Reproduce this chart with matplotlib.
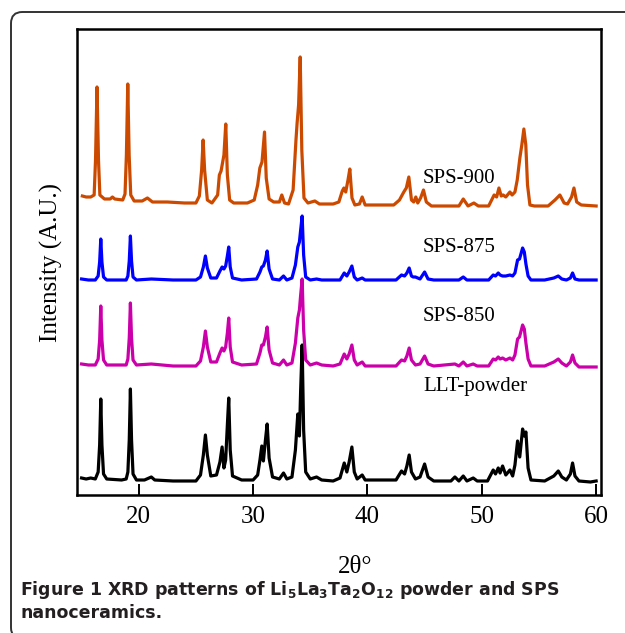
"""XRD patterns of Li5La3Ta2O12 powder and SPS nanoceramics."""

import matplotlib

matplotlib.use("Agg")
import matplotlib.pyplot as plt
from matplotlib.patches import FancyBboxPatch

# (2theta, intensity above own baseline), arbitrary units
llt_powder = [
    (15.0, 2), (15.4, 1), (15.8, 2), (16.2, 1), (16.45, 8), (16.58, 35), (16.68, 81),
    (16.78, 35), (16.92, 6), (17.2, 1), (18.5, 0), (18.9, 1), (19.05, 8), (19.17, 40),
    (19.27, 91), (19.37, 40), (19.5, 6), (19.8, 0), (20.5, 0), (21.1, 3), (21.4, 0),
    (23.0, -1), (25.0, -1), (25.4, 5), (25.65, 25), (25.83, 45), (26.0, 25), (26.3, 4),
    (26.8, 5), (27.1, 18), (27.29, 33), (27.45, 12), (27.6, 20), (27.75, 55), (27.87, 82),
    (28.0, 30), (28.2, 4), (29.0, 0), (30.0, 0), (30.4, 5), (30.6, 20), (30.76, 34),
    (30.9, 19), (31.08, 40), (31.23, 56), (31.4, 22), (31.7, 3), (32.3, 1), (32.66, 7),
    (32.95, 1), (33.4, 3), (33.7, 30), (33.91, 66), (34.05, 44), (34.16, 90), (34.29, 135),
    (34.42, 50), (34.6, 8), (35.0, 1), (35.55, 3), (36.0, 0), (37.0, -1), (37.6, 2),
    (37.97, 17), (38.2, 8), (38.4, 18), (38.64, 33), (38.85, 8), (39.1, 1), (39.54, 5),
    (39.8, 0), (42.5, 0), (42.98, 9), (43.25, 6), (43.45, 14), (43.65, 25), (43.85, 8),
    (44.2, 1), (44.6, 3), (45.0, 16), (45.3, 3), (45.8, -1), (47.3, -1), (47.65, 3),
    (48.0, -1), (48.38, 4), (48.7, -1), (49.25, 2), (49.6, -1), (50.5, -1), (51.0, 10),
    (51.2, 6), (51.44, 12), (51.6, 7), (51.82, 14), (52.1, 5), (52.46, 10), (52.7, 4),
    (52.9, 15), (53.13, 39), (53.32, 23), (53.57, 51), (53.72, 44), (53.86, 48),
    (54.05, 12), (54.3, 0), (55.5, -1), (56.3, 4), (56.69, 9), (57.0, 3), (57.4, 0),
    (57.75, 6), (57.94, 17), (58.15, 4), (58.5, -1), (59.5, -2), (60.0, -1),
]

sps_850 = [
    (15.0, 1), (15.6, 0), (16.2, 0), (16.45, 6), (16.58, 25), (16.68, 59), (16.78, 25),
    (16.92, 5), (17.2, 0), (18.9, 0), (19.05, 6), (19.17, 27), (19.27, 62), (19.37, 27),
    (19.5, 5), (19.8, 0), (21.1, 1), (23.0, -1), (25.0, -1), (25.4, 4), (25.65, 18),
    (25.83, 34), (26.0, 18), (26.3, 3), (26.8, 3), (27.1, 12), (27.29, 17), (27.45, 14),
    (27.6, 18), (27.75, 32), (27.87, 47), (28.0, 18), (28.2, 3), (29.0, 0), (30.3, 1),
    (30.6, 12), (30.76, 20), (30.9, 20), (31.08, 28), (31.23, 38), (31.4, 15), (31.7, 2),
    (32.3, 0), (32.66, 5), (32.95, 0), (33.4, 2), (33.7, 22), (33.91, 47), (34.05, 55),
    (34.16, 70), (34.29, 86), (34.42, 35), (34.6, 5), (35.0, 0), (35.55, 2), (36.0, 0),
    (37.0, -1), (37.6, 1), (37.97, 11), (38.2, 6), (38.4, 11), (38.64, 20), (38.85, 5),
    (39.1, 0), (39.54, 3), (39.8, -1), (42.5, -1), (42.98, 5), (43.25, 4), (43.45, 9),
    (43.65, 17), (43.85, 5), (44.2, 0), (44.6, 1), (45.0, 9), (45.3, 1), (45.8, -1),
    (47.65, 1), (48.0, -1), (48.38, 3), (48.7, -1), (49.25, 1), (49.6, -1), (50.6, -1),
    (51.0, 6), (51.2, 5), (51.44, 8), (51.6, 6), (51.82, 7), (52.1, 5), (52.46, 7),
    (52.7, 5), (52.9, 10), (53.13, 26), (53.3, 28), (53.57, 40), (53.72, 36), (53.86, 22),
    (54.05, 6), (54.3, -1), (55.5, -1), (56.3, 3), (56.69, 6), (57.0, 2), (57.4, -1),
    (57.75, 3), (57.94, 10), (58.15, 2), (58.5, -2), (60.0, -2),
]

sps_875 = [
    (15.0, 1), (15.6, 0), (16.2, 0), (16.45, 4), (16.58, 18), (16.68, 41), (16.78, 18),
    (16.92, 3), (17.2, 0), (18.9, 0), (19.05, 4), (19.17, 19), (19.27, 44), (19.37, 19),
    (19.5, 3), (19.8, 0), (21.1, 1), (23.0, 0), (25.0, 0), (25.4, 3), (25.65, 13),
    (25.83, 24), (26.0, 12), (26.3, 2), (26.8, 2), (27.1, 9), (27.29, 13), (27.45, 11),
    (27.6, 14), (27.75, 24), (27.87, 33), (28.0, 13), (28.2, 2), (29.0, 0), (30.3, 1),
    (30.6, 8), (30.76, 13), (30.9, 14), (31.08, 20), (31.23, 29), (31.4, 11), (31.7, 1),
    (32.3, 0), (32.66, 4), (32.95, 0), (33.4, 2), (33.7, 15), (33.91, 33), (34.05, 38),
    (34.16, 50), (34.29, 64), (34.42, 25), (34.6, 3), (35.0, 0), (35.55, 1), (36.0, 0),
    (37.6, 0), (37.97, 7), (38.2, 4), (38.4, 8), (38.64, 14), (38.85, 3), (39.1, 0),
    (39.54, 2), (39.8, 0), (42.5, 0), (42.98, 5), (43.25, 4), (43.45, 7), (43.65, 12),
    (43.85, 4), (44.0, 3), (44.2, 3), (44.6, 1), (45.0, 8), (45.3, 1), (45.8, 0),
    (48.0, 0), (48.38, 3), (48.7, 0), (50.6, 0), (51.0, 5), (51.2, 4), (51.44, 7),
    (51.6, 5), (51.82, 4), (52.1, 4), (52.46, 5), (52.7, 4), (52.9, 7), (53.13, 20),
    (53.3, 21), (53.57, 32), (53.72, 28), (53.86, 16), (54.05, 4), (54.3, 0), (55.5, 0),
    (56.3, 2), (56.69, 4), (57.0, 1), (57.4, 0), (57.75, 2), (57.94, 7), (58.15, 1),
    (58.5, 0), (60.0, 0),
]

sps_900 = [
    (15.07, 4), (15.4, 3), (15.8, 3), (16.1, 5), (16.22, 40), (16.35, 113), (16.48, 40),
    (16.6, 5), (17.0, 1), (17.5, 1), (17.7, 3), (17.9, 1), (18.6, 0), (18.8, 6),
    (18.92, 45), (19.04, 116), (19.16, 45), (19.3, 5), (19.6, -1), (20.3, -1), (20.76, 2),
    (21.2, -2), (22.5, -2), (24.0, -3), (25.0, -3), (25.3, 4), (25.5, 30), (25.63, 60),
    (25.76, 30), (26.0, 0), (26.4, -3), (26.9, 5), (27.05, 25), (27.2, 29), (27.45, 45),
    (27.61, 76), (27.75, 25), (27.95, 0), (28.3, -3), (29.5, -3), (30.1, 0), (30.4, 15),
    (30.59, 32), (30.78, 38), (31.0, 68), (31.15, 22), (31.4, 1), (31.8, -2), (32.3, -2),
    (32.51, 5), (32.75, -3), (33.1, -4), (33.5, 10), (33.75, 60), (33.85, 77), (33.98, 95),
    (34.12, 143), (34.26, 50), (34.45, 2), (34.8, -3), (35.4, -1), (35.8, -4), (37.0, -4),
    (37.5, -2), (37.8, 9), (37.94, 12), (38.1, 8), (38.3, 20), (38.46, 31), (38.65, 2),
    (38.9, -5), (39.3, -4), (39.54, 3), (39.8, -5), (42.3, -5), (42.8, 0), (43.18, 8),
    (43.4, 12), (43.62, 23), (43.85, 0), (44.05, -2), (44.23, 3), (44.4, -3), (44.65, 2),
    (44.9, 10), (45.15, -2), (45.6, -6), (48.0, -6), (48.38, 1), (48.8, -6), (49.31, -3),
    (49.7, -6), (50.6, -6), (51.08, 5), (51.3, 3), (51.5, 12), (51.7, 4), (51.87, 5),
    (52.1, 3), (52.46, 8), (52.65, 5), (52.9, 8), (53.1, 20), (53.33, 42), (53.5, 55),
    (53.68, 71), (53.85, 55), (54.0, 15), (54.21, -5), (54.6, -6), (55.8, -6), (56.4, 0),
    (56.83, 5), (57.2, -3), (57.5, -4), (57.85, 3), (58.06, 12), (58.3, -2), (58.7, -5),
    (60.0, -6),
]

patterns = [llt_powder, sps_850, sps_875, sps_900]
names = ["LLT-powder", "SPS-850", "SPS-875", "SPS-900"]
offsets = [15, 130, 215, 295]
colors = ["#000000", "#cc00aa", "#0000ff", "#cc4a00"]
label_y = [104, 174, 243, 312]

plt.rcParams["mathtext.fontset"] = "dejavusans"
plt.rcParams["mathtext.default"] = "bf"

fig = plt.figure(figsize=(6.25, 6.33), dpi=100)
fig.patch.set_facecolor("white")

# rounded frame around the figure panel, running off the page at right/bottom
frame = FancyBboxPatch(
    (11 / 625, -6 / 633), 640 / 625, (633 - 12 + 6) / 633,
    boxstyle="round,pad=0,rounding_size=0.018",
    transform=fig.transFigure, facecolor="none", edgecolor="#333333",
    linewidth=1.4, clip_on=False,
)
fig.patches.append(frame)

ax = fig.add_axes([77 / 625, 1 - 495 / 633, (600.7 - 77) / 625, (495 - 29) / 633])

for data, off, col in zip(patterns, offsets, colors):
    tt, counts = zip(*data)
    ax.plot(tt, [c + off for c in counts], color=col, linewidth=2.3,
            solid_joinstyle="round")

serif = "Liberation Serif"
for name, y in zip(names, label_y):
    ax.text(44.85, y, name, fontsize=15, family=serif, ha="left", va="baseline")

ax.set_xlim(14.6, 60.4)
ax.set_ylim(0, 466)
ax.set_xticks([20, 30, 40, 50, 60])
ax.set_yticks([])
ax.tick_params(axis="x", direction="in", length=8, width=1.4, pad=8,
               labelsize=18, labelfontfamily=serif)
for sp in ax.spines.values():
    sp.set_linewidth(1.8)

fig.text(355 / 625, 1 - 573 / 633, "2θ°", fontsize=18, family=serif,
         ha="center", va="baseline")
fig.text(51 / 625, 1 - 262 / 633, "Intensity (A.U.)", fontsize=18, family=serif,
         rotation=90, ha="center", va="center")

cap_kw = dict(fontsize=12.5, family="DejaVu Sans", fontweight="bold", color="#231f20",
              ha="left", va="baseline")
fig.text(20 / 625, 1 - 595 / 633,
         "Figure 1 XRD patterns of Li$_5$La$_3$Ta$_2$O$_{12}$ powder and SPS", **cap_kw)
fig.text(20 / 625, 1 - 618 / 633, "nanoceramics.", **cap_kw)

fig.savefig("out.png", dpi=100)
plt.close(fig)
